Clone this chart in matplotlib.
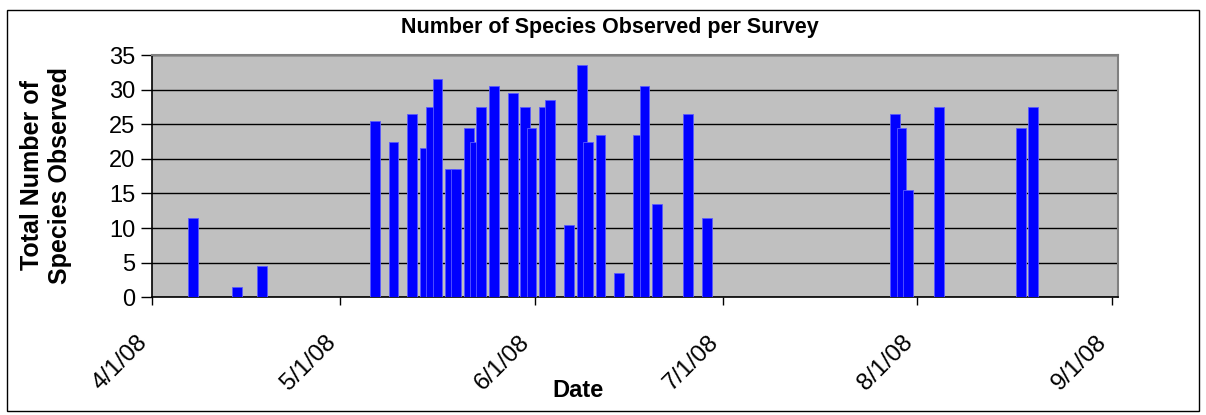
import matplotlib
matplotlib.use("Agg")
import matplotlib.pyplot as plt
import matplotlib.dates as mdates
import matplotlib.transforms as mtransforms
from matplotlib.patches import Rectangle
from matplotlib.ticker import FuncFormatter, MultipleLocator
import datetime as dt

plt.rcParams['font.family'] = ['Liberation Sans', 'DejaVu Sans']

survey_dates = ["2008-04-07", "2008-04-14", "2008-04-18", "2008-05-06", "2008-05-09",
                "2008-05-12", "2008-05-14", "2008-05-15", "2008-05-16", "2008-05-18",
                "2008-05-19", "2008-05-21", "2008-05-22", "2008-05-23", "2008-05-25",
                "2008-05-28", "2008-05-30", "2008-05-31", "2008-06-02", "2008-06-03",
                "2008-06-06", "2008-06-08", "2008-06-09", "2008-06-11", "2008-06-14",
                "2008-06-17", "2008-06-18", "2008-06-20", "2008-06-25", "2008-06-28",
                "2008-07-28", "2008-07-29", "2008-07-30", "2008-08-04", "2008-08-17",
                "2008-08-19"]
species_counts = [11.5, 1.5, 4.5, 25.5, 22.5,
                  26.5, 21.5, 27.5, 31.5, 18.5,
                  18.5, 24.5, 22.5, 27.5, 30.5,
                  29.5, 27.5, 24.5, 27.5, 28.5,
                  10.5, 33.5, 22.5, 23.5, 3.5,
                  23.5, 30.5, 13.5, 26.5, 11.5,
                  26.5, 24.5, 15.5, 27.5, 24.5,
                  27.5]
tick_dates = ["2008-04-01", "2008-05-01", "2008-06-01", "2008-07-01", "2008-08-01", "2008-09-01"]

W, H = 1206, 415
fig = plt.figure(figsize=(W / 100, H / 100), dpi=100)
fig.patch.set_facecolor('white')

# chart border
fig.patches.append(Rectangle((7 / W, 1 - 411 / H), (1199 - 7) / W, (411 - 10) / H,
                             transform=fig.transFigure, fill=False, edgecolor='black',
                             linewidth=1.0, zorder=0))

left, right, top, bottom = 152, 1118, 55, 297.3
ax = fig.add_axes([left / W, 1 - bottom / H, (right - left) / W, (bottom - top) / H])
ax.set_facecolor('#C0C0C0')

xs = [mdates.date2num(dt.datetime.strptime(d, "%Y-%m-%d")) + 0.5 for d in survey_dates]
ax.bar(xs, species_counts, width=1.54, color='#0000FF', edgecolor='#5A5AFF',
       linewidth=0.6, zorder=3)

x0 = mdates.date2num(dt.datetime(2008, 4, 1))
x1 = mdates.date2num(dt.datetime(2008, 9, 2))
ax.set_xlim(x0, x1)
ax.set_ylim(0, 35)
ax.yaxis.set_major_locator(MultipleLocator(5))
ax.grid(axis='y', color='black', linewidth=1.0, zorder=1)
ax.set_axisbelow(True)

ticks = [mdates.date2num(dt.datetime.strptime(d, "%Y-%m-%d")) for d in tick_dates]
ax.set_xticks(ticks)


def fmt(v, pos):
    d = mdates.num2date(v)
    return f"{d.month}/{d.day}/{d:%y}"


ax.xaxis.set_major_formatter(FuncFormatter(fmt))
ax.tick_params(axis='x', labelsize=17.5, length=6, width=1, direction='out', pad=24, color='black')
ax.tick_params(axis='y', labelsize=17, length=8, width=1, direction='out', pad=4, color='black')
shift = mtransforms.ScaledTranslation(-8 / 100, 0, fig.dpi_scale_trans)
for lab in ax.get_xticklabels():
    lab.set_rotation(45)
    lab.set_ha('right')
    lab.set_va('center')
    lab.set_rotation_mode('anchor')
    lab.set_transform(lab.get_transform() + shift)

for s in ['left', 'bottom']:
    ax.spines[s].set_color('black')
    ax.spines[s].set_linewidth(1.2)
for s in ['top', 'right']:
    ax.spines[s].set_color('#808080')
    ax.spines[s].set_linewidth(1.5)

fig.text(610 / W, 1 - 33.3 / H, "Number of Species Observed per Survey", ha='center', va='baseline',
         fontsize=15.5, fontweight='bold')
fig.text(578 / W, 1 - 397 / H, "Date", ha='center', va='baseline', fontsize=17, fontweight='bold')
fig.text(46 / W, 1 - 175 / H, "Total Number of\nSpecies Observed", ha='center', va='center',
         rotation=90, fontsize=18, fontweight='bold', linespacing=1.25)

fig.savefig("out.png", dpi=100)
